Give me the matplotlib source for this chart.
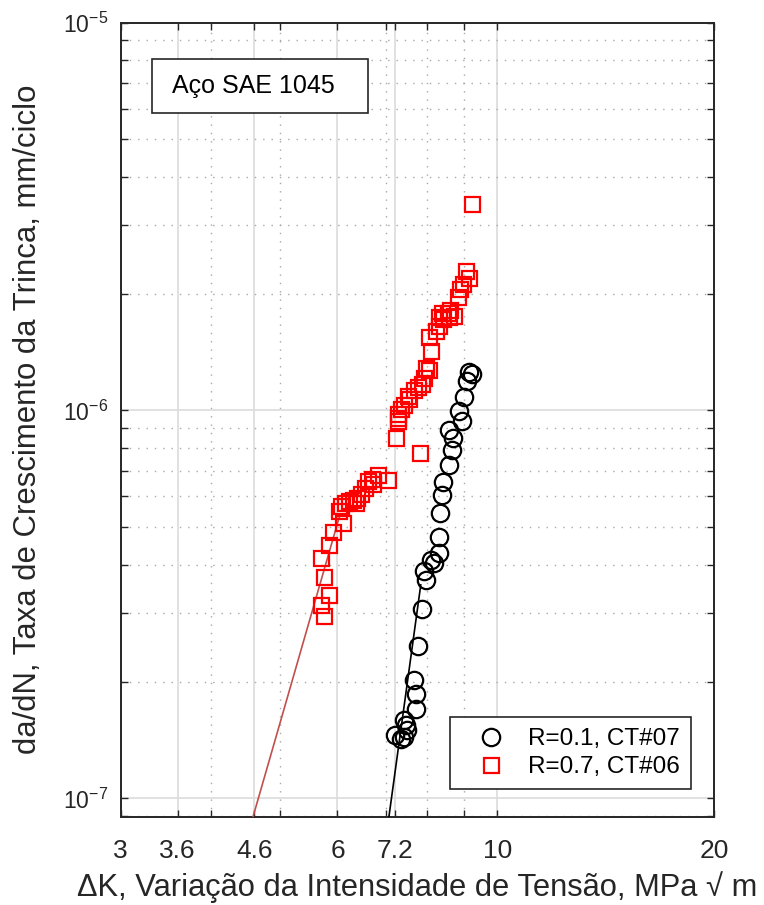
# Curva da/dN x Delta K - Aco SAE 1045, R=0.1 e R=0.7

import numpy as np
import matplotlib
matplotlib.use('Agg')
import matplotlib.pyplot as plt
from matplotlib.ticker import FixedLocator, LogLocator, NullFormatter
from matplotlib.patches import Rectangle

plt.rcParams['font.family'] = ['Liberation Sans', 'DejaVu Sans']
plt.rcParams['mathtext.fontset'] = 'custom'
plt.rcParams['mathtext.rm'] = 'Liberation Sans'
plt.rcParams['mathtext.it'] = 'Liberation Sans:italic'
plt.rcParams['mathtext.bf'] = 'Liberation Sans:bold'

# R=0.1, CT#07 (Delta K em MPa*sqrt(m), da/dN em mm/ciclo)
r01_dk = [9.15, 9.21, 9.09, 8.98, 8.86, 8.92, 8.58, 8.67, 8.64, 8.56,
          8.42, 8.39, 8.34, 8.29, 8.29, 8.10, 8.18, 7.92, 7.97, 7.85,
          7.75, 7.67, 7.70, 7.72, 7.43, 7.48, 7.50, 7.20, 7.41, 7.36]
r01_dadn = [1.26e-6, 1.24e-6, 1.19e-6, 1.08e-6, 0.994e-6, 0.937e-6, 0.889e-6, 0.848e-6, 0.790e-6, 0.723e-6,
            0.654e-6, 0.605e-6, 0.544e-6, 0.473e-6, 0.430e-6, 0.412e-6, 0.405e-6, 0.386e-6, 0.366e-6, 0.307e-6,
            0.247e-6, 0.202e-6, 0.186e-6, 0.170e-6, 0.159e-6, 0.155e-6, 0.150e-6, 0.146e-6, 0.144e-6, 0.1425e-6]

# R=0.7, CT#06
r07_dk = [9.21, 9.04, 9.15, 8.95, 8.89, 8.81, 8.61, 8.72, 8.53, 8.37,
          8.29, 8.42, 8.56, 8.29, 8.23, 8.03, 8.08, 7.97, 8.03, 7.92,
          7.85, 7.75, 7.67, 7.52, 7.55, 7.41, 7.34, 7.29, 7.29, 7.27,
          7.24, 7.80, 6.84, 7.06, 6.69, 6.62, 6.73, 6.56, 6.47, 6.39,
          6.31, 6.23, 6.15, 6.37, 6.07, 6.02, 6.11, 5.92, 5.83, 5.69,
          5.75, 5.83, 5.69, 5.75]
r07_dadn = [3.40e-6, 2.29e-6, 2.19e-6, 2.12e-6, 2.06e-6, 1.96e-6, 1.82e-6, 1.75e-6, 1.78e-6, 1.78e-6,
            1.74e-6, 1.72e-6, 1.74e-6, 1.65e-6, 1.60e-6, 1.55e-6, 1.42e-6, 1.29e-6, 1.27e-6, 1.21e-6,
            1.17e-6, 1.15e-6, 1.13e-6, 1.09e-6, 1.07e-6, 1.03e-6, 1.01e-6, 0.977e-6, 0.954e-6, 0.937e-6,
            0.848e-6, 0.776e-6, 0.681e-6, 0.661e-6, 0.665e-6, 0.657e-6, 0.646e-6, 0.631e-6, 0.609e-6, 0.595e-6,
            0.588e-6, 0.584e-6, 0.577e-6, 0.577e-6, 0.567e-6, 0.551e-6, 0.513e-6, 0.487e-6, 0.451e-6, 0.417e-6,
            0.371e-6, 0.335e-6, 0.316e-6, 0.296e-6]

# retas de ajuste (Paris), extremos
fit01_dk = [7.0, 7.83]
fit01_dadn = [7.8e-8, 3.55e-7]
fit07_dk = [4.5, 6.05]
fit07_dadn = [8.0e-8, 5.4e-7]

xticks = [3, 3.6, 4.6, 6, 7.2, 10, 20]
xticklabels = ['3', '3.6', '4.6', '6', '7.2', '10', '20']
xminor = [4, 5, 6, 7, 8, 9]

dark = '#262626'

fig = plt.figure(figsize=(7.64, 9.05), dpi=100)
ax = fig.add_axes([0.158, 0.0972, 0.7766, 0.8779])
ax.set_xscale('log')
ax.set_yscale('log')

ax.plot(fit01_dk, fit01_dadn, '-', color='black', lw=1.2, zorder=3)
ax.plot(fit07_dk, fit07_dadn, '-', color='#c0504d', lw=1.2, zorder=3)
ax.plot(r01_dk, r01_dadn, 'o', mfc='none', mec='black', ms=12.5, mew=1.6,
        label='R=0.1, CT#07', zorder=4)
ax.plot(r07_dk, r07_dadn, 's', mfc='none', mec='red', ms=10.8, mew=1.6,
        label='R=0.7, CT#06', zorder=4)

ax.set_xlim(3, 20)
ax.set_ylim(8.95e-8, 1e-5)

ax.xaxis.set_major_locator(FixedLocator(xticks))
ax.set_xticklabels(xticklabels)
ax.xaxis.set_minor_locator(FixedLocator(xminor))
ax.xaxis.set_minor_formatter(NullFormatter())
ax.yaxis.set_major_locator(LogLocator(base=10))
ax.yaxis.set_minor_locator(LogLocator(base=10, subs=np.arange(2, 10)))
ax.yaxis.set_minor_formatter(NullFormatter())

ax.set_axisbelow(True)
ax.grid(which='major', color='#dcdcdc', lw=1.2, ls='-')
ax.grid(which='minor', color='#a8a8a8', lw=1.0, ls=(0, (1, 5)))

ax.tick_params(which='both', direction='in', top=True, right=True,
               length=5, width=1, color=dark, labelcolor=dark, labelsize=16.5)
ax.tick_params(axis='x', which='major', pad=15.5, labelsize=19)
ax.tick_params(axis='y', which='major', pad=9)
for s in ax.spines.values():
    s.set_color(dark)
    s.set_linewidth(1.4)

ax.set_xlabel('ΔK, Variação da Intensidade de Tensão, MPa √ m', fontsize=22.2, color=dark)
ax.set_ylabel('da/dN, Taxa de Crescimento da Trinca, mm/ciclo', fontsize=22.4, color=dark)
ax.xaxis.set_label_coords(0.5, -0.068)
ax.yaxis.set_label_coords(-0.131, 0.5)

# caixa de texto do material
ax.add_patch(Rectangle((0.0528, 0.886), 0.364, 0.068, transform=ax.transAxes,
                       facecolor='white', edgecolor=dark, lw=1.2, zorder=5))
ax.text(0.2238, 0.920, 'Aço SAE 1045', transform=ax.transAxes, fontsize=18,
        ha='center', va='center', color='black', zorder=6)

leg = ax.legend(loc='lower right', bbox_to_anchor=(0.961, 0.035), fontsize=17.5,
                frameon=True, fancybox=False, framealpha=1, edgecolor=dark,
                borderaxespad=0, borderpad=0.45, handlelength=2.4,
                handletextpad=0.35, labelspacing=0.25)
leg.get_frame().set_linewidth(1.2)
leg.set_zorder(6)

fig.savefig('out.png', dpi=100)
